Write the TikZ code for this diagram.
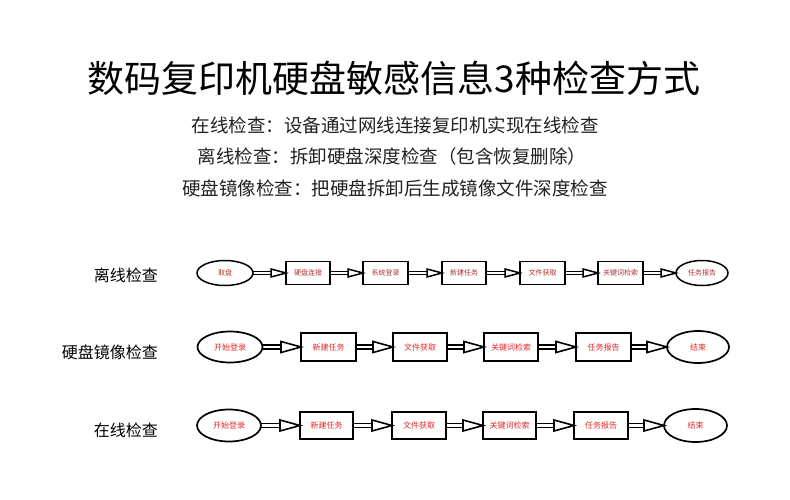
\documentclass[tikz,border=0pt]{standalone}
\usepackage{fontspec}
\setmainfont{Noto Sans CJK SC}
\usetikzlibrary{shapes.geometric,calc}
\definecolor{rowa}{HTML}{A83232}
\definecolor{rowb}{HTML}{E02828}
\definecolor{sub}{HTML}{222222}
\tikzset{
  boxa/.style={draw, line width=1.5pt, rectangle, inner sep=0pt, outer sep=0pt, minimum width=45pt, minimum height=23pt, text=rowa, font=\fontsize{7}{8}\selectfont},
  ella/.style={draw, line width=1.5pt, ellipse, inner sep=0pt, outer sep=0pt, minimum width=56pt, minimum height=25pt, text=rowa, font=\fontsize{7}{8}\selectfont},
  boxb/.style={draw, line width=1.7pt, rectangle, inner sep=0pt, outer sep=0pt, minimum width=54pt, minimum height=28pt, text=rowb, font=\fontsize{8}{9}\selectfont},
  ellb/.style={draw, line width=1.7pt, ellipse, inner sep=0pt, outer sep=0pt, minimum width=65pt, minimum height=31pt, text=rowb, font=\fontsize{8}{9}\selectfont},
  rowlabel/.style={anchor=east, inner sep=0pt, font=\fontsize{16}{18}\selectfont},
  subline/.style={inner sep=0pt, text=sub, font=\fontsize{18.5}{20}\selectfont},
  arr/.style={line width=#1, line join=miter},
}
% #1 from, #2 to, #3 head length, #4 head half height, #5 shaft half gap, #6 line width
\newcommand\darr[6]{%
  \draw[arr=#6] ($(#1.east)+(0,#5)$) -- ($(#2.west)+(-#3,#5)$);
  \draw[arr=#6] ($(#1.east)+(0,-#5)$) -- ($(#2.west)+(-#3,-#5)$);
  \draw[arr=#6] ($(#2.west)+(-#3,#4)$) -- (#2.west) -- ($(#2.west)+(-#3,-#4)$) -- cycle;}
\begin{document}
\begin{tikzpicture}[x=1pt,y=-1pt]
\useasboundingbox[fill=white] (0,0) rectangle (790,500);
\node[inner sep=0pt, font=\fontsize{37}{40}\selectfont] (title) at (394,78) {数码复印机硬盘敏感信息3种检查方式};
\node[subline] (s1) at (395,125) {在线检查：设备通过网线连接复印机实现在线检查};
\node[subline] (s2) at (392,156.5) {离线检查：拆卸硬盘深度检查（包含恢复删除）};
\node[subline] (s3) at (395,188) {硬盘镜像检查：把硬盘拆卸后生成镜像文件深度检查};

\node[rowlabel] (l1) at (158,275) {离线检查};
\node[rowlabel] (l2) at (158,352) {硬盘镜像检查};
\node[rowlabel] (l3) at (158,430) {在线检查};

% row 1
\node[ella] (a1) at (225,273) {取盘};
\node[boxa, minimum width=44pt] (a2) at (308,273) {硬盘连接};
\node[boxa] (a3) at (385.5,273) {系统登录};
\node[boxa, minimum width=44pt] (a4) at (464,273) {新建任务};
\node[boxa] (a5) at (542.5,273) {文件获取};
\node[boxa] (a6) at (620.5,273) {关键词检索};
\node[ella, minimum width=52pt] (a7) at (702,273) {任务报告};
\darr{a1}{a2}{15}{4}{1.7}{1.5pt}
\darr{a2}{a3}{15}{4}{1.7}{1.5pt}
\darr{a3}{a4}{15}{4}{1.7}{1.5pt}
\darr{a4}{a5}{15}{4}{1.7}{1.5pt}
\darr{a5}{a6}{15}{4}{1.7}{1.5pt}
\darr{a6}{a7}{15}{4}{1.7}{1.5pt}

% row 2
\node[ellb] (b1) at (230,347) {开始登录};
\node[boxb, minimum width=55pt] (b2) at (328.5,347) {新建任务};
\node[boxb] (b3) at (420,347) {文件获取};
\node[boxb] (b4) at (511,347) {关键词检索};
\node[boxb, minimum width=55pt] (b5) at (603.5,347) {任务报告};
\node[ellb, minimum width=62pt, minimum height=32pt] (b6) at (698,347) {结束};
\darr{b1}{b2}{20}{5.5}{2}{1.6pt}
\darr{b2}{b3}{20}{5.5}{2}{1.6pt}
\darr{b3}{b4}{20}{5.5}{2}{1.6pt}
\darr{b4}{b5}{20}{5.5}{2}{1.6pt}
\darr{b5}{b6}{20}{5.5}{2}{1.6pt}

% row 3
\node[ellb, minimum width=64pt, minimum height=32pt] (c1) at (229,425.5) {开始登录};
\node[boxb, minimum width=53pt, minimum height=27pt] (c2) at (326.5,425.5) {新建任务};
\node[boxb, minimum height=27pt] (c3) at (419,425.5) {文件获取};
\node[boxb, minimum width=53pt, minimum height=27pt] (c4) at (509.5,425.5) {关键词检索};
\node[boxb, minimum height=27pt] (c5) at (601,425.5) {任务报告};
\node[ellb, minimum width=63pt, minimum height=33pt] (c6) at (695.5,425.5) {结束};
\darr{c1}{c2}{20}{5.5}{2}{1.6pt}
\darr{c2}{c3}{20}{5.5}{2}{1.6pt}
\darr{c3}{c4}{20}{5.5}{2}{1.6pt}
\darr{c4}{c5}{20}{5.5}{2}{1.6pt}
\darr{c5}{c6}{20}{5.5}{2}{1.6pt}
\end{tikzpicture}
\end{document}
